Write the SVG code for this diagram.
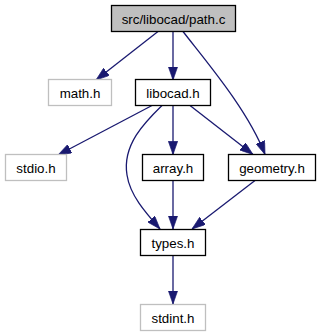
<svg xmlns="http://www.w3.org/2000/svg" width="321" height="336" viewBox="0 0 321 336">
  <style>
    .node rect { fill: #ffffff; stroke: #000000; stroke-width: 1.3; }
    .node.ext rect { stroke: #bfbfbf; }
    .node.root rect { fill: #bfbfbf; }
    .node text { font-family: "Liberation Sans", Arial, Helvetica, sans-serif; font-size: 13.33px; text-anchor: middle; fill: #000000; }
    .edges path { fill: none; stroke: #191970; stroke-width: 1.3; marker-end: url(#arrow); }
  </style>
  <defs>
    <marker id="arrow" viewBox="0 0 10 7" refX="10" refY="3.5" markerWidth="13.3" markerHeight="9.3" markerUnits="userSpaceOnUse" orient="auto">
      <path d="M0,0 L10,3.5 L0,7 Z" fill="#191970" stroke="#191970" stroke-width="0.5"/>
    </marker>
  </defs>
  <rect x="0" y="0" width="321" height="336" fill="#ffffff"/>

  <g class="edges" id="edges">
    <path d="M158,31.5 L96,80"/>
    <path d="M173,31.5 L173,80"/>
    <path d="M183,31.5 C205,60 248,110 265,154.5"/>
    <path d="M152,105.5 L58,155"/>
    <path d="M162,105.5 C145,122 122,145 127,175 C130,195 145,212 160,229"/>
    <path d="M173,105.5 L173,154.5"/>
    <path d="M190,105.5 L253,154.5"/>
    <path d="M173,180.5 L173,229"/>
    <path d="M255,180.5 L192,229"/>
    <path d="M173,255 L173,304"/>
  </g>

  <g class="node root" id="node-path-c">
    <rect x="111.5" y="5.5" width="124" height="26"/>
    <text x="173.5" y="23.5">src/libocad/path.c</text>
  </g>
  <g class="node ext" id="node-math-h">
    <rect x="48.5" y="79.5" width="63" height="26"/>
    <text x="80" y="97.5">math.h</text>
  </g>
  <g class="node" id="node-libocad-h">
    <rect x="135.5" y="79.5" width="75" height="26"/>
    <text x="173" y="97.5">libocad.h</text>
  </g>
  <g class="node ext" id="node-stdio-h">
    <rect x="5.5" y="154.5" width="61" height="26"/>
    <text x="36" y="172.5">stdio.h</text>
  </g>
  <g class="node" id="node-array-h">
    <rect x="142.5" y="154.5" width="61" height="26"/>
    <text x="173" y="172.5">array.h</text>
  </g>
  <g class="node" id="node-geometry-h">
    <rect x="228.5" y="154.5" width="87" height="26"/>
    <text x="272" y="172.5">geometry.h</text>
  </g>
  <g class="node" id="node-types-h">
    <rect x="140.5" y="229.5" width="65" height="26"/>
    <text x="173" y="247.5">types.h</text>
  </g>
  <g class="node ext" id="node-stdint-h">
    <rect x="140.5" y="304.5" width="65" height="26"/>
    <text x="173" y="322.5">stdint.h</text>
  </g>
</svg>
